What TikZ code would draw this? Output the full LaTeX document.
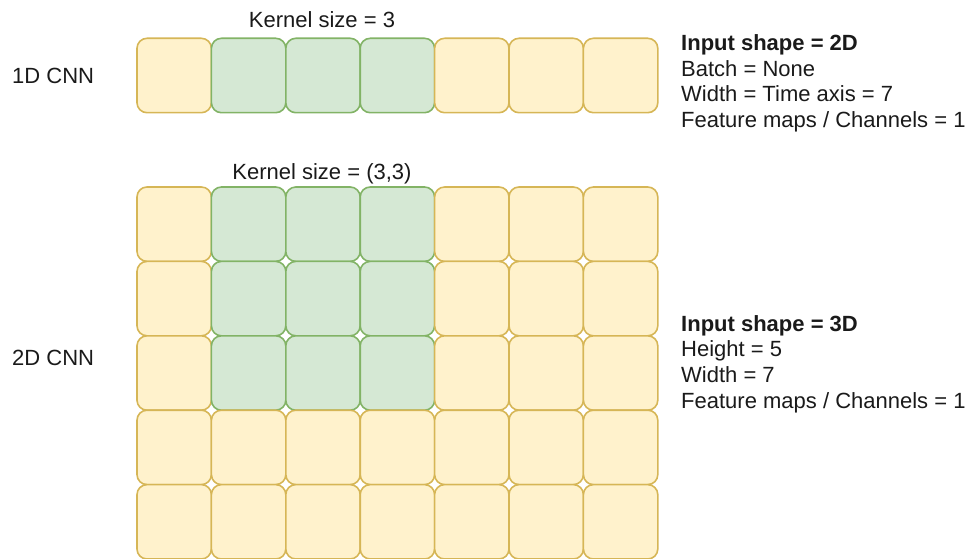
\documentclass[tikz,border=0pt]{standalone}
\usepackage{fontspec}
\setmainfont{Liberation Sans}
\definecolor{cellfill}{HTML}{FFF2CC}
\definecolor{celldraw}{HTML}{D6B656}
\definecolor{kernfill}{HTML}{D5E8D4}
\definecolor{kerndraw}{HTML}{82B366}
\definecolor{txt}{HTML}{1A1A1A}
\tikzset{
  cell/.style={rectangle, rounded corners=10pt, draw=celldraw, fill=cellfill,
    line width=1.6pt, minimum width=74.4pt, minimum height=74.4pt, inner sep=0pt},
  kern/.style={cell, draw=kerndraw, fill=kernfill},
  lbl/.style={font=\fontsize{22}{26}\selectfont, text=txt, inner sep=0pt},
  hd/.style={lbl, font=\fontsize{22}{26}\selectfont\bfseries}
}
\begin{document}
\begin{tikzpicture}[x=1pt,y=-1pt]
\useasboundingbox (0,0) rectangle (969,559);
% 1D input: one row of seven cells, kernel covers columns 1..3
\foreach \c in {0,...,6}{
  \pgfmathsetmacro\cx{137+74.4*(\c+0.5)}
  \ifnum\c>0 \ifnum\c<4
    \node[kern] (a-\c) at (\cx,75.5) {};
  \else
    \node[cell] (a-\c) at (\cx,75.5) {};
  \fi\else
    \node[cell] (a-\c) at (\cx,75.5) {};
  \fi
}
% 2D input: five rows of seven cells, 3x3 kernel in the top-left region
\foreach \r in {0,...,4}{
  \foreach \c in {0,...,6}{
    \pgfmathsetmacro\cx{137+74.4*(\c+0.5)}
    \pgfmathsetmacro\cy{187+74.4*(\r+0.5)}
    \pgfmathtruncatemacro\isk{(\r<3)&&(\c>0)&&(\c<4)}
    \ifnum\isk=1
      \node[kern] (b-\r-\c) at (\cx,\cy) {};
    \else
      \node[cell] (b-\r-\c) at (\cx,\cy) {};
    \fi
  }
}
% labels
\node[lbl, anchor=base] (k1) at (322,28) {Kernel size = 3};
\node[lbl, anchor=base] (k2) at (322,179) {Kernel size = (3,3)};
\node[lbl, anchor=base west] (n1) at (12,84) {1D CNN};
\node[lbl, anchor=base west] (n2) at (12,365) {2D CNN};
% shape descriptions
\node[hd, anchor=base west] (s1) at (681,50.5) {Input shape = 2D};
\node[lbl, anchor=base west] (s2) at (681,76.2) {Batch = None};
\node[lbl, anchor=base west] (s3) at (681,101.9) {Width = Time axis = 7};
\node[lbl, anchor=base west] (s4) at (681,127.6) {Feature maps / Channels = 1};
\node[hd, anchor=base west] (t1) at (681,331) {Input shape = 3D};
\node[lbl, anchor=base west] (t2) at (681,356.7) {Height = 5};
\node[lbl, anchor=base west] (t3) at (681,382.4) {Width = 7};
\node[lbl, anchor=base west] (t4) at (681,408.1) {Feature maps / Channels = 1};
\end{tikzpicture}
\end{document}
